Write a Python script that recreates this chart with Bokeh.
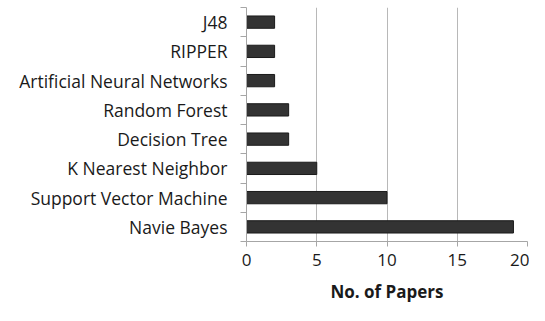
from bokeh.plotting import figure
from bokeh.models import Range1d, FixedTicker, LinearAxis, ColumnDataSource
from bokeh.embed import file_html
from bokeh.resources import INLINE

# Data (bottom to top)
categories = ["Navie Bayes", "Support Vector Machine", "K Nearest Neighbor",
              "Decision Tree", "Random Forest", "Artificial Neural Networks",
              "RIPPER", "J48"]
papers = [19, 10, 5, 3, 3, 2, 2, 2]
x_ticks = [0, 5, 10, 15, 20]
x_title = "No. of Papers"

FONT = "Open Sans"
AXIS_GRAY = "#a6a6a6"
TEXT = "#1a1a1a"

ypos = [i + 0.5 for i in range(len(categories))]
src = ColumnDataSource(dict(y=ypos, right=papers, cat=categories))

p = figure(width=529, height=305, output_backend="svg", toolbar_location=None,
           x_range=Range1d(0, 20), y_range=Range1d(0, len(categories)),
           min_border_left=246, min_border_right=2, min_border_top=7,
           min_border_bottom=60, y_axis_location=None)
p.outline_line_color = None
p.background_fill_color = "white"
p.border_fill_color = "white"

p.hbar(y="y", left=0, right="right", height=0.42, source=src,
       fill_color="#333333", line_color="#1a1a1a", line_width=1)

# y axis: labels at centers, ticks at category boundaries
yax = LinearAxis(ticker=FixedTicker(ticks=ypos,
                                    minor_ticks=list(range(len(categories) + 1))))
yax.major_label_overrides = {y: c for y, c in zip(ypos, categories)}
yax.major_tick_line_color = None
yax.major_tick_out = 0
yax.major_tick_in = 0
yax.minor_tick_out = 6
yax.minor_tick_in = 0
yax.minor_tick_line_color = AXIS_GRAY
yax.axis_line_color = AXIS_GRAY
yax.major_label_standoff = 13
yax.major_label_text_font = FONT
yax.major_label_text_font_size = "17.5px"
yax.major_label_text_color = TEXT
p.add_layout(yax, "left")

# x axis
xax = p.xaxis[0]
xax.ticker = FixedTicker(ticks=x_ticks)
xax.minor_tick_line_color = None
xax.major_tick_in = 0
xax.major_tick_out = 5
xax.major_tick_line_color = AXIS_GRAY
xax.axis_line_color = AXIS_GRAY
xax.major_label_standoff = 7
xax.major_label_text_font = FONT
xax.major_label_text_font_size = "17px"
xax.major_label_text_color = TEXT
xax.axis_label = x_title
xax.axis_label_text_font = FONT
xax.axis_label_text_font_style = "bold"
xax.axis_label_text_font_size = "17px"
xax.axis_label_text_color = TEXT
xax.axis_label_standoff = 11

p.xgrid.ticker = FixedTicker(ticks=x_ticks[1:])
p.xgrid.grid_line_color = "#b8b8b8"
p.ygrid.grid_line_color = None

open("out.html", "w").write(file_html(p, INLINE))
